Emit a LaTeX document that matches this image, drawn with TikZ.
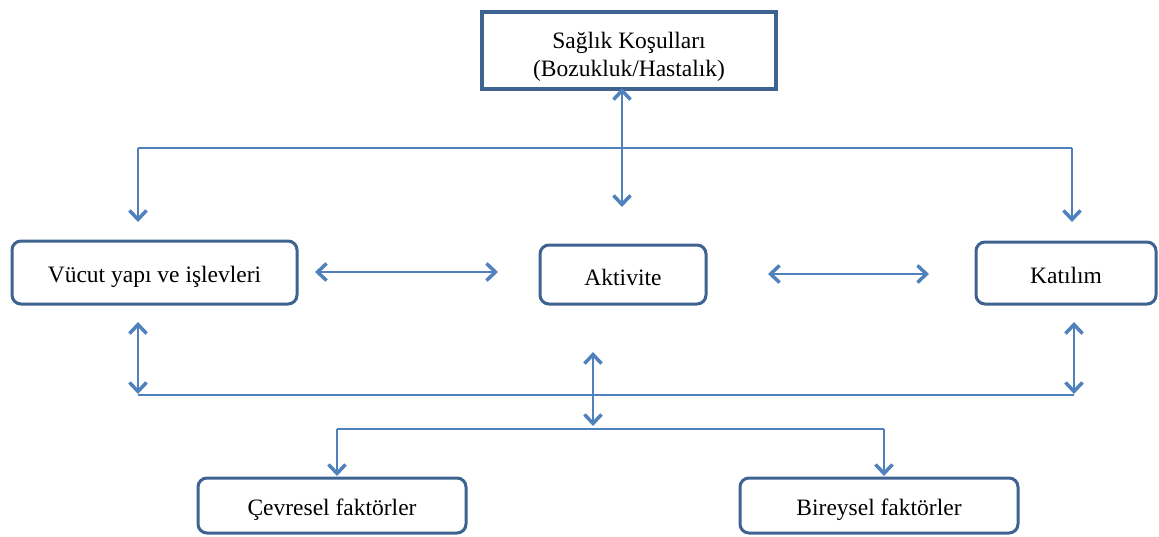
\documentclass[tikz,border=0pt]{standalone}
\usepackage{fontspec}
\setmainfont{Liberation Serif}
\usetikzlibrary{arrows.meta}
\definecolor{boxblue}{HTML}{3E6391}
\definecolor{arrblue}{HTML}{4F81BD}
\newcommand\lowr[2]{\raisebox{-#1}[\height][\depth]{#2}}
\tikzset{
  box/.style={draw=boxblue, line width=3pt, rounded corners=9pt, fill=white, align=center, inner sep=0pt, font=\fontsize{23.5}{28}\selectfont},
  tipb/.tip={Straight Barb[length=9pt,width=17pt,line width=3.5pt]},
  conn/.style={draw=arrblue, line width=1.8pt},
  arr/.style={conn, line width=2.2pt, -tipb},
  darr/.style={conn, line width=2.2pt, tipb-tipb},
}
\begin{document}
\begin{tikzpicture}[x=1pt,y=-1pt]
\useasboundingbox (0,0) rectangle (1159,536);
% boxes
\node[box, rounded corners=0pt, line width=4pt, minimum width=294pt, minimum height=77pt] (saglik) at (629,50.5) {\lowr{6pt}{\begin{tabular}{@{}c@{}}Sağlık Koşulları\\(Bozukluk/Hastalık)\end{tabular}}};
\node[box, minimum width=285pt, minimum height=63pt] (vucut) at (154.5,272.5) {\lowr{4pt}{Vücut yapı ve işlevleri}};
\node[box, minimum width=166pt, minimum height=59pt] (aktivite) at (623,274.5) {\lowr{3pt}{Aktivite}};
\node[box, minimum width=180pt, minimum height=62pt] (katilim) at (1066,273) {\lowr{2pt}{Katılım}};
\node[box, minimum width=268pt, minimum height=55pt] (cevre) at (332,505.5) {\lowr{4pt}{Çevresel faktörler}};
\node[box, minimum width=278pt, minimum height=55pt] (birey) at (879,505.5) {\lowr{4pt}{Bireysel faktörler}};
% coordinates
\coordinate (sEnd) at (622,207);
\coordinate (tL) at (138,148);
\coordinate (tR) at (1072,148);
\coordinate (tLd) at (138,222);
\coordinate (tRd) at (1072,222);
\coordinate (h1a) at (315,272);
\coordinate (h1b) at (498,272);
\coordinate (h2a) at (768,274);
\coordinate (h2b) at (929,274);
\coordinate (vLa) at (138,322);
\coordinate (vLb) at (138,394);
\coordinate (vRa) at (1074,322);
\coordinate (vRb) at (1074,394);
\coordinate (vMa) at (593,352);
\coordinate (vMb) at (593,426);
\coordinate (bL) at (138,395);
\coordinate (bR) at (1074,395);
\coordinate (cL) at (337,429);
\coordinate (cR) at (884,429);
\coordinate (cLd) at (337,476);
\coordinate (cRd) at (884,476);
% connectors
\draw[conn] (tL) -- (tR);
\draw[arr] (tL) -- (tLd);
\draw[arr] (tR) -- (tRd);
\draw[darr] ([xshift=-7pt]saglik.south) ++(0,3pt) -- (sEnd);
\draw[darr] (h1a) -- (h1b);
\draw[darr] (h2a) -- (h2b);
\draw[darr] (vLa) -- (vLb);
\draw[darr] (vRa) -- (vRb);
\draw[conn] (bL) -- (bR);
\draw[darr] (vMa) -- (vMb);
\draw[conn] (cL) -- (cR);
\draw[arr] (cL) -- (cLd);
\draw[arr] (cR) -- (cRd);
\end{tikzpicture}
\end{document}
